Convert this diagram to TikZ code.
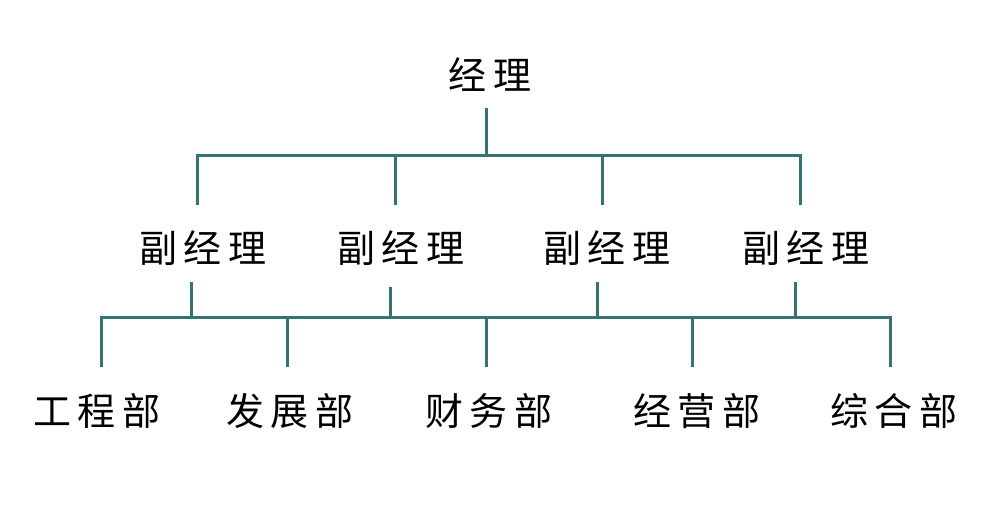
\documentclass[tikz,border=0pt]{standalone}
\usepackage{fontspec}
\newfontfamily\cjk[LetterSpace=16]{Noto Sans CJK SC}
\definecolor{lineteal}{RGB}{52,116,114}
\tikzset{
  lbl/.style={font=\cjk\fontsize{38}{42}\selectfont, inner sep=0pt, anchor=center},
  conn/.style={draw=lineteal, line width=3pt},
}
\begin{document}
\begin{tikzpicture}[x=1pt,y=-1pt]
\useasboundingbox[fill=white] (0,0) rectangle (1001,517);
% nodes
\node[lbl] (top) at (490,75) {经理};
\node[lbl] (v1) at (203,248) {副经理};
\node[lbl] (v2) at (401,248) {副经理};
\node[lbl] (v3) at (607,248) {副经理};
\node[lbl] (v4) at (806,248) {副经理};
\node[lbl] (d1) at (97,411) {工程部};
\node[lbl] (d2) at (290,411) {发展部};
\node[lbl] (d3) at (489,411) {财务部};
\node[lbl] (d4) at (697,411) {经营部};
\node[lbl] (d5) at (894,411) {综合部};
% top bar
\coordinate (t0) at (486,108);
\coordinate (tb) at (486,155);
\coordinate (b1) at (197,155);
\coordinate (b2) at (395,155);
\coordinate (b3) at (602,155);
\coordinate (b4) at (800,155);
\coordinate (e1) at (197,205);
\coordinate (e2) at (395,205);
\coordinate (e3) at (602,205);
\coordinate (e4) at (800,205);
\draw[conn] (t0) -- (tb);
\draw[conn] (e1) -- (b1) -- (b4) -- (e4);
\draw[conn] (b2) -- (e2);
\draw[conn] (b3) -- (e3);
% lower bar
\coordinate (u1) at (191,282);
\coordinate (u2) at (390,287);
\coordinate (u3) at (597,282);
\coordinate (u4) at (795,282);
\coordinate (m1) at (191,317);
\coordinate (m2) at (390,317);
\coordinate (m3) at (597,317);
\coordinate (m4) at (795,317);
\coordinate (c1) at (101,317);
\coordinate (c2) at (287,317);
\coordinate (c3) at (486,317);
\coordinate (c4) at (692,317);
\coordinate (c5) at (890,317);
\coordinate (f1) at (101,367);
\coordinate (f2) at (287,367);
\coordinate (f3) at (486,367);
\coordinate (f4) at (692,367);
\coordinate (f5) at (890,367);
\draw[conn] (u1) -- (m1);
\draw[conn] (u2) -- (m2);
\draw[conn] (u3) -- (m3);
\draw[conn] (u4) -- (m4);
\draw[conn] (f1) -- (c1) -- (c5) -- (f5);
\draw[conn] (c2) -- (f2);
\draw[conn] (c3) -- (f3);
\draw[conn] (c4) -- (f4);
\end{tikzpicture}
\end{document}
